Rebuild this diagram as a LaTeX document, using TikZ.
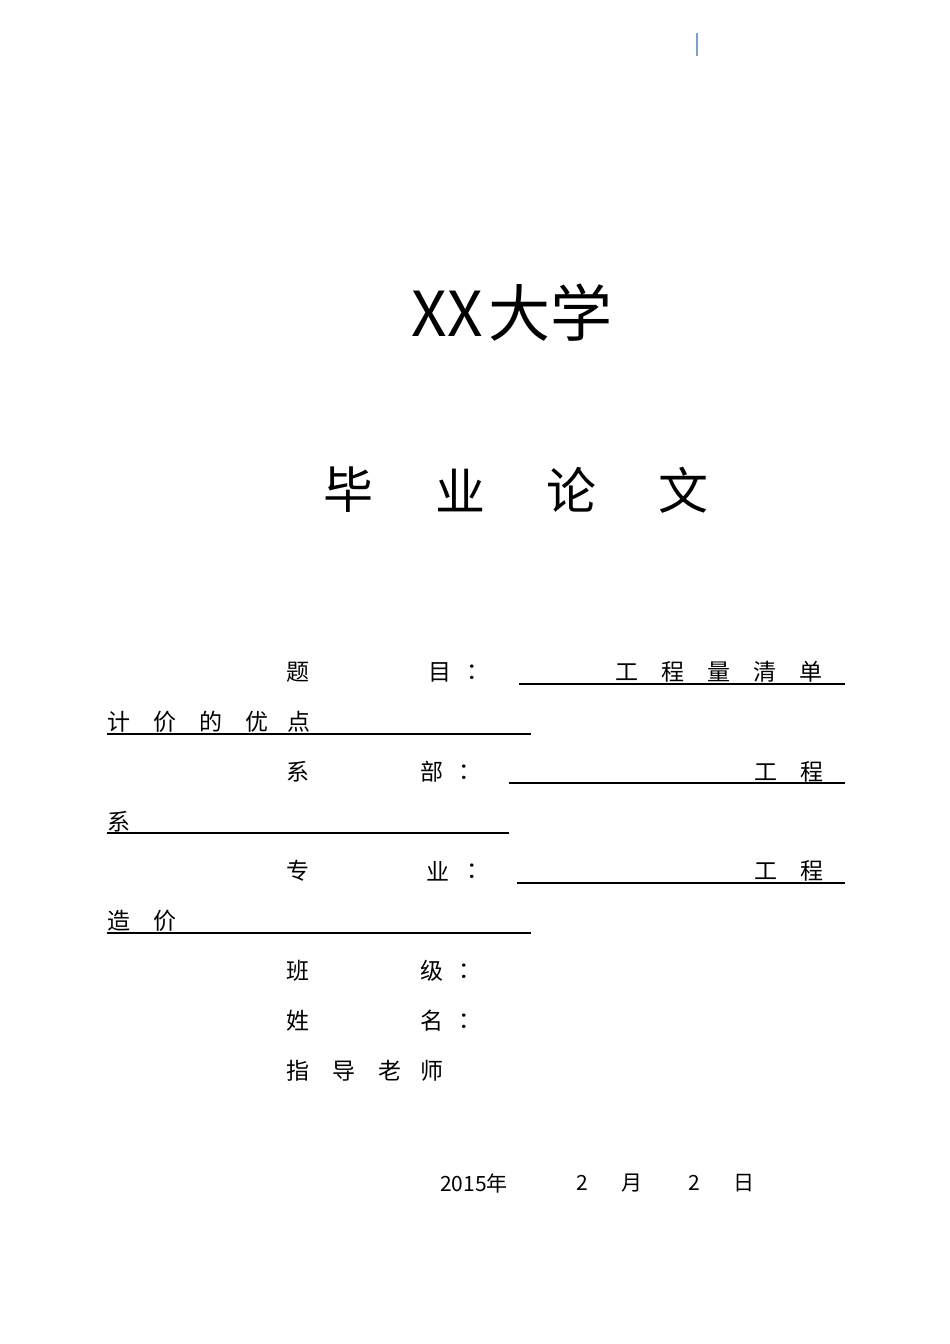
\documentclass[tikz,border=0pt]{standalone}
\usepackage{fontspec}
\setmainfont{Noto Sans CJK SC}
\newfontfamily\cjk{Noto Sans CJK SC}
\begin{document}
\begin{tikzpicture}[x=1pt,y=-1pt,
  t/.style={inner sep=0pt,font=\cjk\fontsize{23}{23}\selectfont},
  ul/.style={line width=1.2pt}]
\useasboundingbox (0,0) rectangle (950,1344);
\fill[white] (0,0) rectangle (950,1344);
\draw[line width=1.5pt,color={rgb,255:red,120;green,160;blue,210}] (697,33) -- (697,56);
\node[t,font=\cjk\fontsize{62}{62}\selectfont] (title) at (512,313) {XX\hspace{6pt}大学};
\foreach \x/\c [count=\i] in {348/毕,460/业,571/论,683/文}
  \node[t,font=\cjk\fontsize{50}{50}\selectfont] (b\i) at (\x,490) {\c};
% row 1
\foreach \x/\c [count=\i] in {298/题,440/目,478/：,627/工,673/程,719/量,765/清,811/单}
  \node[t] (r1\i) at (\x,672) {\c};
\draw[ul] (519,684) -- (845,684);
\foreach \x/\c [count=\i] in {119/计,165/价,211/的,257/优,299/点}
  \node[t] (r2\i) at (\x,722) {\c};
\draw[ul] (107,734) -- (531,734);
\foreach \x/\c [count=\i] in {298/系,432/部,470/：,766/工,812/程}
  \node[t] (r3\i) at (\x,772) {\c};
\draw[ul] (509,783) -- (845,783);
\node[t] (r4) at (119,822) {系};
\draw[ul] (107,833) -- (509,833);
\foreach \x/\c [count=\i] in {298/专,438/业,478/：,766/工,812/程}
  \node[t] (r5\i) at (\x,871) {\c};
\draw[ul] (517,883) -- (845,883);
\foreach \x/\c [count=\i] in {119/造,165/价}
  \node[t] (r6\i) at (\x,921) {\c};
\draw[ul] (107,933) -- (531,933);
\foreach \x/\c [count=\i] in {298/班,432/级,470/：}
  \node[t] (r7\i) at (\x,971) {\c};
\foreach \x/\c [count=\i] in {298/姓,432/名,470/：}
  \node[t] (r8\i) at (\x,1021) {\c};
\foreach \x/\c [count=\i] in {298/指,344/导,390/老,432/师}
  \node[t] (r9\i) at (\x,1071) {\c};
\foreach \x/\c [count=\i] in {474/2015年,582/2,632/月,694/2,744/日}
  \node[t,font=\cjk\fontsize{21}{21}\selectfont] (d\i) at (\x,1183) {\c};
\end{tikzpicture}
\end{document}
